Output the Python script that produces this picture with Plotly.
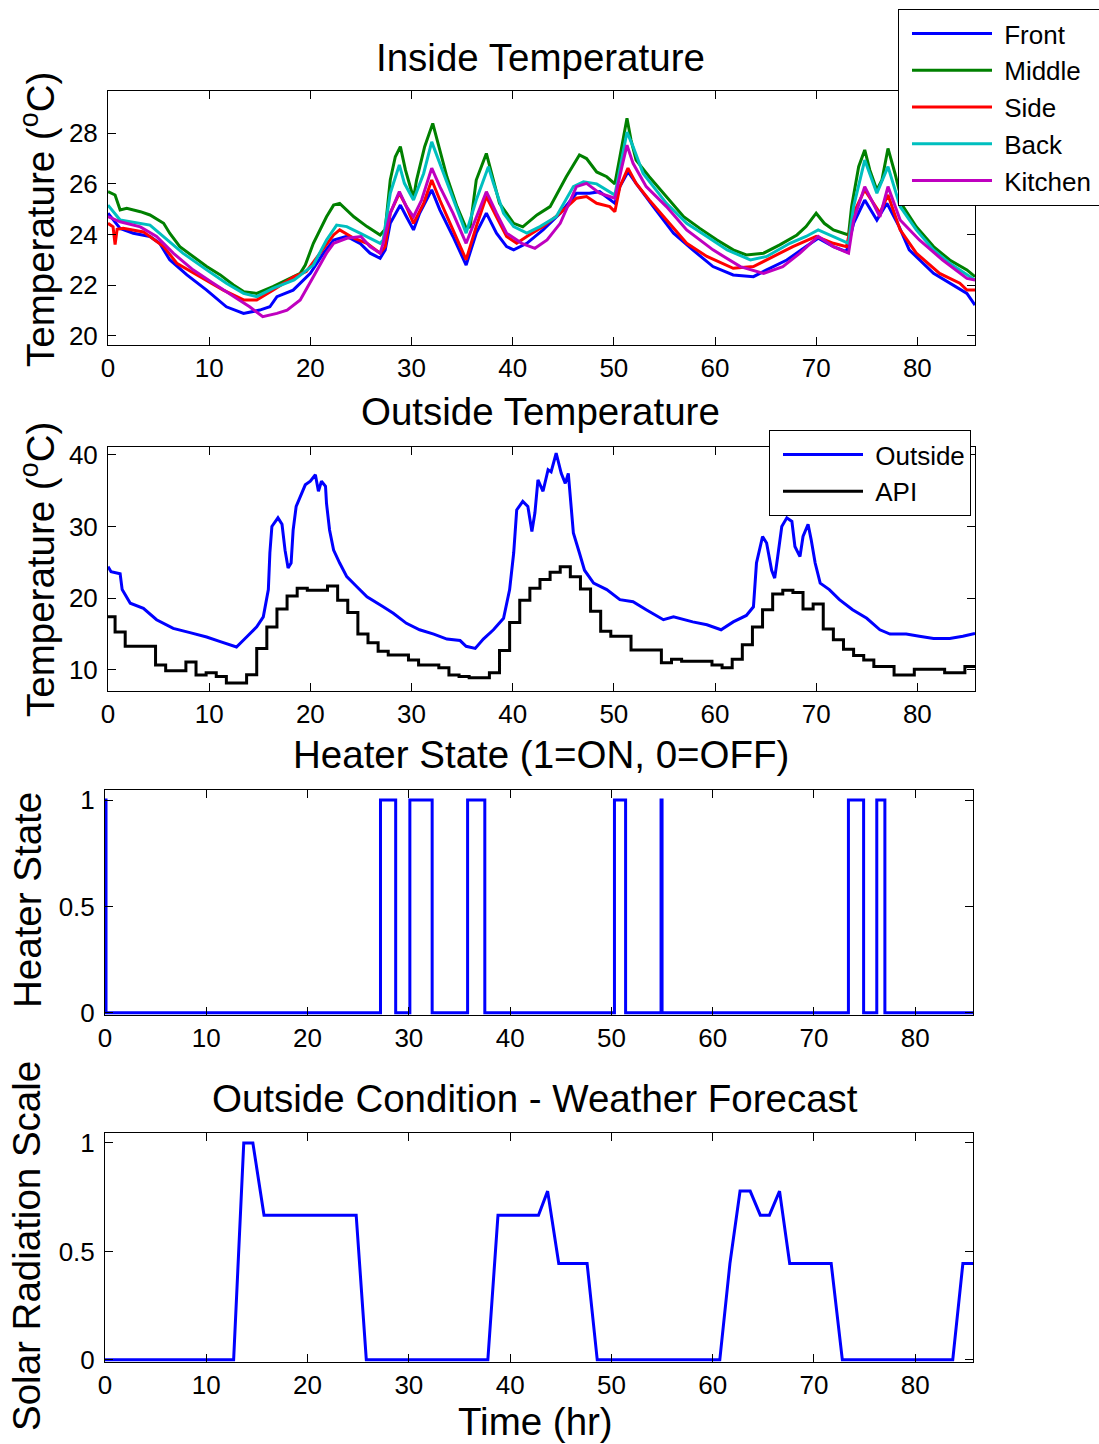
import plotly.graph_objects as go

# ---------------- Inside temperatures (deg C) ----------------
front_hr = [0, 1.2, 2.5, 4.15, 5.1, 6.1, 7.8, 9.75, 11.7, 13.4,
            15.0, 16.0, 16.7, 18.3, 20.0, 21.3, 22.3, 23.6, 24.9, 25.9,
            26.9, 27.4, 27.9, 28.9, 29.5, 30.2, 30.8, 32.0, 32.8, 34.1,
            35.4, 36.4, 37.4, 38.4, 39.4, 40.1, 41.4, 43.0, 44.7, 46.3,
            47.6, 48.6, 50.1, 50.6, 51.4, 52.2, 53.9, 55.9, 57.8, 59.8,
            61.8, 63.8, 65.1, 67.1, 69.0, 70.2, 71.7, 73.0, 73.7, 74.8,
            76.0, 77.0, 78.2, 79.2, 81.6, 83.8, 84.9, 85.7]
front_temp = [24.84, 24.24, 24.05, 23.92, 23.65, 23.0, 22.4, 21.8, 21.14, 20.88,
              21.01, 21.14, 21.54, 21.8, 22.46, 23.26, 23.78, 23.92, 23.65, 23.26,
              23.06, 23.39, 24.44, 25.16, 24.7, 24.18, 24.84, 25.76, 24.97, 23.92,
              22.79, 24.05, 24.84, 24.05, 23.52, 23.39, 23.65, 24.18, 24.84, 25.63,
              25.63, 25.69, 25.23, 25.89, 26.48, 26.02, 25.1, 24.05, 23.39, 22.73,
              22.4, 22.33, 22.6, 22.99, 23.52, 23.85, 23.52, 23.32, 24.44, 25.36,
              24.57, 25.23, 24.31, 23.39, 22.46, 21.94, 21.67, 21.21]

middle_hr = [0, 0.7, 1.2, 1.85, 3.2, 4.15, 5.5, 6.1, 7.1, 8.4,
             9.75, 11.1, 12.4, 13.4, 14.7, 16.3, 17.7, 19.0, 19.5, 20.3,
             21.6, 22.3, 22.9, 24.3, 25.6, 26.9, 27.4, 27.9, 28.4, 28.9,
             29.4, 30.0, 30.2, 30.5, 31.3, 32.1, 32.6, 33.5, 34.5, 35.4,
             35.8, 36.4, 37.4, 37.9, 38.7, 40.1, 41.0, 42.4, 43.7, 45.3,
             46.6, 47.3, 48.3, 49.3, 50.1, 50.6, 51.3, 51.7, 52.2, 53.5,
             55.2, 56.9, 58.5, 60.2, 61.8, 63.1, 64.8, 66.4, 68.1, 69.0,
             70.0, 70.8, 71.7, 73.2, 73.5, 74.2, 74.8, 75.3, 76.0, 76.5,
             77.1, 77.8, 78.6, 79.9, 81.6, 83.2, 84.9, 85.7]
middle_temp = [25.69, 25.56, 24.97, 25.03, 24.9, 24.77, 24.44, 24.05, 23.52, 23.13,
               22.73, 22.4, 22.0, 21.74, 21.67, 21.94, 22.2, 22.46, 22.79, 23.65,
               24.7, 25.16, 25.23, 24.7, 24.31, 23.98, 24.2, 26.15, 27.07, 27.47,
               26.55, 25.76, 25.43, 26.15, 27.47, 28.39, 27.6, 26.28, 25.1, 24.25,
               24.3, 26.15, 27.2, 26.4, 25.23, 24.44, 24.3, 24.77, 25.1, 26.28,
               27.14, 27.0, 26.47, 26.28, 26.0, 27.07, 28.59, 27.73, 26.94, 26.28,
               25.5, 24.7, 24.24, 23.78, 23.39, 23.19, 23.26, 23.59, 23.98, 24.31,
               24.84, 24.44, 24.18, 23.98, 25.1, 26.68, 27.34, 26.55, 25.76, 26.15,
               27.4, 26.4, 25.1, 24.3, 23.52, 22.99, 22.6, 22.33]

side_hr = [0, 0.5, 0.7, 0.9, 1.5, 3.5, 5.5, 6.8, 9.1, 11.4,
           13.4, 14.7, 16.3, 18.4, 19.6, 21.0, 22.3, 22.9, 24.3, 25.6,
           26.9, 27.4, 27.9, 28.8, 29.5, 30.2, 31.2, 32.0, 32.8, 34.1,
           35.4, 36.4, 37.4, 38.4, 39.4, 40.4, 41.4, 43.0, 44.7, 46.3,
           47.3, 48.3, 49.6, 50.1, 50.6, 51.4, 52.2, 53.5, 55.2, 57.2,
           59.2, 61.8, 63.8, 65.7, 67.7, 70.0, 71.7, 73.0, 73.7, 74.8,
           76.3, 77.1, 78.3, 79.9, 82.2, 84.2, 84.9, 85.7]
side_temp = [24.44, 24.3, 23.6, 24.2, 24.24, 24.1, 23.52, 22.86, 22.33, 21.8,
             21.41, 21.41, 21.8, 22.33, 22.53, 23.26, 23.98, 24.18, 23.85, 23.65,
             23.26, 23.52, 24.84, 25.63, 25.1, 24.44, 25.23, 26.15, 25.36, 24.18,
             23.0, 24.31, 25.5, 24.7, 23.92, 23.65, 23.92, 24.31, 24.84, 25.43,
             25.5, 25.23, 25.1, 24.9, 25.89, 26.62, 26.02, 25.36, 24.57, 23.65,
             23.13, 22.66, 22.73, 23.13, 23.52, 23.92, 23.65, 23.52, 24.84, 25.76,
             24.84, 25.56, 24.18, 23.26, 22.46, 22.07, 21.8, 21.8]

back_hr = [0, 1.2, 4.15, 5.5, 7.4, 9.75, 11.7, 13.4, 14.7, 16.3,
           18.4, 20.3, 21.6, 22.6, 23.6, 24.9, 26.9, 27.2, 27.9, 28.8,
           29.3, 30.2, 31.2, 32.0, 32.8, 34.1, 35.4, 36.4, 37.6, 38.1,
           39.1, 40.1, 41.4, 42.7, 44.3, 46.0, 47.0, 48.3, 50.1, 50.8,
           51.3, 51.9, 52.9, 55.2, 57.2, 59.2, 61.2, 63.5, 65.1, 67.4,
           69.0, 70.2, 71.7, 73.2, 73.7, 74.8, 76.0, 77.1, 78.3, 79.9,
           81.6, 83.2, 85.7]
back_temp = [25.16, 24.57, 24.37, 23.92, 23.26, 22.6, 22.07, 21.67, 21.54, 21.87,
             22.2, 22.79, 23.78, 24.37, 24.31, 24.05, 23.65, 23.78, 25.63, 26.75,
             26.02, 25.36, 26.41, 27.66, 26.81, 25.36, 24.05, 25.36, 26.68, 26.02,
             24.84, 24.31, 24.05, 24.31, 24.7, 25.89, 26.08, 26.0, 25.56, 27.0,
             28.05, 27.47, 26.41, 25.23, 24.44, 23.92, 23.39, 22.99, 23.13, 23.65,
             23.92, 24.18, 23.92, 23.65, 25.1, 26.94, 25.63, 26.68, 25.1, 24.18,
             23.39, 22.86, 22.2]

kitchen_hr = [0, 1.2, 3.2, 4.8, 6.45, 8.4, 10.4, 12.4, 14.0, 15.3,
              16.7, 17.7, 19.0, 20.3, 21.6, 22.3, 23.6, 25.0, 25.9, 26.9,
              27.2, 27.9, 28.8, 29.5, 30.2, 31.0, 32.0, 32.8, 34.1, 35.4,
              36.4, 37.4, 38.4, 39.4, 40.9, 42.2, 43.4, 44.7, 46.3, 47.3,
              48.6, 50.1, 50.8, 51.3, 51.9, 53.2, 55.2, 57.2, 59.8, 62.5,
              64.8, 66.7, 68.4, 70.2, 71.7, 73.2, 73.7, 74.8, 76.3, 77.1,
              78.3, 80.2, 82.5, 84.9, 85.7]
kitchen_temp = [24.7, 24.5, 24.3, 23.92, 23.26, 22.6, 22.07, 21.54, 21.14, 20.75,
                20.88, 21.01, 21.41, 22.33, 23.26, 23.65, 23.85, 23.92, 23.52, 23.26,
                23.65, 24.84, 25.69, 25.1, 24.7, 25.36, 26.62, 25.89, 24.84, 23.65,
                24.7, 25.69, 24.84, 24.05, 23.65, 23.45, 23.78, 24.44, 25.89, 26.02,
                25.63, 25.43, 26.68, 27.53, 26.81, 25.89, 25.1, 24.18, 23.39, 22.73,
                22.46, 22.73, 23.26, 23.92, 23.52, 23.26, 24.57, 25.89, 24.7, 25.89,
                24.57, 23.78, 22.99, 22.26, 22.2]

# ---------------- Outside temperature (deg C) ----------------
outside_hr = [0, 0.3, 1.2, 1.4, 2.2, 3.5, 4.8, 6.45, 8.1, 9.75,
              11.1, 12.4, 12.7, 13.7, 14.7, 15.35, 15.85, 16.0, 16.2, 16.8,
              17.2, 17.5, 17.8, 18.1, 18.3, 18.6, 19.0, 19.5, 20.0, 20.5,
              20.8, 21.1, 21.5, 21.6, 21.9, 22.3, 22.9, 23.6, 24.6, 25.6,
              27.2, 28.2, 29.5, 30.8, 32.2, 33.5, 34.8, 35.4, 36.3, 37.1,
              38.1, 39.1, 39.7, 40.1, 40.4, 41.0, 41.5, 41.9, 42.2, 42.5,
              43.0, 43.5, 43.8, 44.3, 44.8, 45.2, 45.5, 45.7, 46.0, 46.6,
              47.1, 48.0, 49.3, 50.6, 51.9, 53.2, 54.9, 55.9, 57.8, 59.2,
              60.6, 61.8, 63.1, 63.8, 64.1, 64.7, 65.1, 65.6, 65.9, 66.2,
              66.6, 67.1, 67.6, 67.9, 68.4, 68.7, 69.2, 69.5, 69.9, 70.4,
              71.3, 72.3, 73.6, 75.0, 76.3, 77.3, 78.9, 80.2, 81.6, 83.2,
              84.5, 85.7]
outside_temp = [24.4, 23.7, 23.4, 21.2, 19.3, 18.6, 17.0, 15.8, 15.2, 14.6,
                13.95, 13.25, 13.2, 14.6, 16.0, 17.4, 21.2, 26.3, 30.0, 31.2,
                30.3, 26.7, 24.2, 24.9, 29.5, 32.8, 34.2, 35.8, 36.3, 37.2,
                34.9, 36.3, 35.6, 33.2, 29.5, 26.7, 24.9, 23.0, 21.6, 20.2,
                18.8, 17.9, 16.5, 15.6, 15.0, 14.3, 14.1, 13.3, 13.0, 14.3,
                15.6, 17.2, 21.2, 26.3, 32.3, 33.5, 32.8, 29.3, 31.9, 36.5,
                34.9, 37.9, 37.6, 40.2, 37.4, 36.0, 37.4, 34.2, 29.1, 26.3,
                23.9, 22.1, 21.2, 19.8, 19.5, 18.4, 17.0, 17.4, 16.7, 16.3,
                15.6, 16.7, 17.6, 18.8, 24.9, 28.6, 27.7, 23.9, 22.8, 25.8,
                30.0, 31.2, 30.7, 27.2, 25.8, 28.6, 30.3, 28.2, 24.9, 22.1,
                21.2, 19.8, 18.4, 17.2, 15.6, 15.0, 15.0, 14.7, 14.4, 14.4,
                14.7, 15.1]

# Hourly API forecast, each value held for one hour
api_hr = [0.0] + [h + 0.7 for h in range(85)] + [85.7]
api_temp = [17.4, 15.3, 13.3, 13.3, 13.3, 10.7, 9.9, 9.9, 11.1, 9.3,
            9.6, 9.1, 8.2, 8.2, 9.35, 13.0, 16.0, 18.5, 20.3, 21.4,
            21.1, 21.1, 21.7, 19.7, 18.0, 15.0, 13.8, 12.6, 12.1, 12.1,
            11.4, 10.7, 10.7, 10.3, 9.3, 9.1, 8.9, 8.9, 9.6, 12.7,
            16.6, 19.7, 21.4, 22.6, 23.6, 24.4, 23.0, 21.3, 18.2, 15.4,
            14.7, 14.7, 12.8, 12.8, 12.8, 11.0, 11.5, 11.2, 11.2, 11.2,
            10.7, 10.3, 11.5, 13.5, 16.0, 18.4, 20.6, 21.1, 20.8, 18.5,
            19.2, 15.7, 14.2, 12.9, 12.0, 11.4, 10.5, 10.5, 9.3, 9.3,
            10.1, 10.1, 10.1, 9.6, 9.6, 10.5]
api_temp = api_temp + [api_temp[-1]]

# ---------------- Heater state ----------------
heater_hr = [0, 0.1, 27.2, 28.7, 30.1, 32.3, 35.8, 37.5, 50.3, 51.4,
             54.9, 55.0, 73.4, 74.9, 76.2, 77.0, 85.7]
heater_state = [1, 0, 1, 0, 1, 0, 1, 0, 1, 0,
                1, 0, 1, 0, 1, 0, 0]

# ---------------- Solar radiation forecast ----------------
solar_hr = [0, 12.7, 13.7, 14.6, 15.7, 24.8, 25.8, 37.8, 38.8, 42.8,
            43.7, 44.8, 47.6, 48.6, 60.7, 61.7, 62.7, 63.7, 64.7, 65.6,
            66.6, 67.6, 71.7, 72.8, 83.7, 84.7, 85.7]
solar_scale = [0, 0, 1, 1, 0.667, 0.667, 0, 0, 0.667, 0.667,
               0.778, 0.444, 0.444, 0, 0, 0.444, 0.778, 0.778, 0.667, 0.667,
               0.778, 0.444, 0.444, 0, 0, 0.444, 0.444]

# ---------------- Figure ----------------
W, H = 1099, 1444
FONT = "Liberation Sans, Arial, Helvetica, sans-serif"
LW = 3
NB = "\u00a0"  # small gap between legend key and label

fig = go.Figure()

inside = [
    ("Front", front_hr, front_temp, "#0000FF"),
    ("Middle", middle_hr, middle_temp, "#008000"),
    ("Side", side_hr, side_temp, "#FF0000"),
    ("Back", back_hr, back_temp, "#00BFBF"),
    ("Kitchen", kitchen_hr, kitchen_temp, "#BF00BF"),
]
for name, hx, hy, col in inside:
    fig.add_trace(go.Scatter(x=hx, y=hy, mode="lines", name=NB + name + NB,
                             line=dict(color=col, width=LW),
                             xaxis="x", yaxis="y", legend="legend"))

fig.add_trace(go.Scatter(x=outside_hr, y=outside_temp, mode="lines", name=NB + "Outside",
                         line=dict(color="#0000FF", width=LW),
                         xaxis="x2", yaxis="y2", legend="legend2"))
fig.add_trace(go.Scatter(x=api_hr, y=api_temp, mode="lines", name=NB + "API",
                         line=dict(color="#000000", width=LW, shape="hv"),
                         xaxis="x2", yaxis="y2", legend="legend2"))

fig.add_trace(go.Scatter(x=heater_hr, y=heater_state, mode="lines", showlegend=False,
                         line=dict(color="#0000FF", width=LW, shape="hv"),
                         xaxis="x3", yaxis="y3"))
fig.add_trace(go.Scatter(x=solar_hr, y=solar_scale, mode="lines", showlegend=False,
                         line=dict(color="#0000FF", width=LW),
                         xaxis="x4", yaxis="y4"))


def px_x(a, b):
    return [a / W, b / W]


def px_y(top, bottom):
    return [1 - bottom / H, 1 - top / H]


axis_common = dict(showline=True, linecolor="black", linewidth=1, mirror="ticks",
                   ticks="inside", ticklen=8, tickwidth=1, tickcolor="black",
                   showgrid=False, zeroline=False, automargin=False,
                   tickfont=dict(family=FONT, size=26, color="black"))
yaxis_common = dict(axis_common, ticklabelstandoff=4)
xticks = [0, 10, 20, 30, 40, 50, 60, 70, 80]

legend_common = dict(xanchor="left", yanchor="top", bgcolor="white",
                     bordercolor="black", borderwidth=1, itemwidth=80, indentation=8,
                     font=dict(family=FONT, size=26, color="black"))

fig.update_layout(
    width=W, height=H,
    margin=dict(l=0, r=0, t=0, b=0, autoexpand=False),
    paper_bgcolor="white", plot_bgcolor="white",
    font=dict(family=FONT, color="black"),
    xaxis=dict(domain=px_x(108, 975), anchor="y", range=[0, 85.7], tickvals=xticks, **axis_common),
    yaxis=dict(domain=px_y(91, 345), anchor="x", range=[19.63, 29.67],
               tickvals=[20, 22, 24, 26, 28], **yaxis_common),
    xaxis2=dict(domain=px_x(108, 975), anchor="y2", range=[0, 85.7], tickvals=xticks, **axis_common),
    yaxis2=dict(domain=px_y(447, 691), anchor="x2", range=[7.07, 41.07],
                tickvals=[10, 20, 30, 40], **yaxis_common),
    xaxis3=dict(domain=px_x(105, 973), anchor="y3", range=[0, 85.7], tickvals=xticks, **axis_common),
    yaxis3=dict(domain=px_y(790, 1015), anchor="x3", range=[-0.01, 1.047],
                tickvals=[0, 0.5, 1], **yaxis_common),
    xaxis4=dict(domain=px_x(105, 973), anchor="y4", range=[0, 85.7], tickvals=xticks, **axis_common),
    yaxis4=dict(domain=px_y(1133, 1362), anchor="x4", range=[-0.01, 1.046],
                tickvals=[0, 0.5, 1], **yaxis_common),
    legend=dict(x=898 / W, y=1 - 9 / H, **legend_common),
    legend2=dict(x=769 / W, y=1 - 430 / H, **legend_common),
)

TITLE = 38.5
texts = [
    ("Inside Temperature", 540, 58, 0),
    ("Outside Temperature", 540, 412, 0),
    ("Heater State (1=ON, 0=OFF)", 541, 754, 0),
    ("Outside Condition - Weather Forecast", 535, 1098, 0),
    ("Time (hr)", 535, 1421, 0),
    ("Temperature (<sup>o</sup>C)", 38, 220, -90),
    ("Temperature (<sup>o</sup>C)", 38, 570, -90),
    ("Heater State", 27, 900, -90),
    ("Solar Radiation Scale", 26, 1246, -90),
]
for txt, cx, cy, ang in texts:
    fig.add_annotation(text=txt, x=cx / W, y=1 - cy / H, xref="paper", yref="paper",
                       xanchor="center", yanchor="middle", showarrow=False,
                       textangle=ang, font=dict(family=FONT, size=TITLE, color="black"))

fig.write_html("out.html")
